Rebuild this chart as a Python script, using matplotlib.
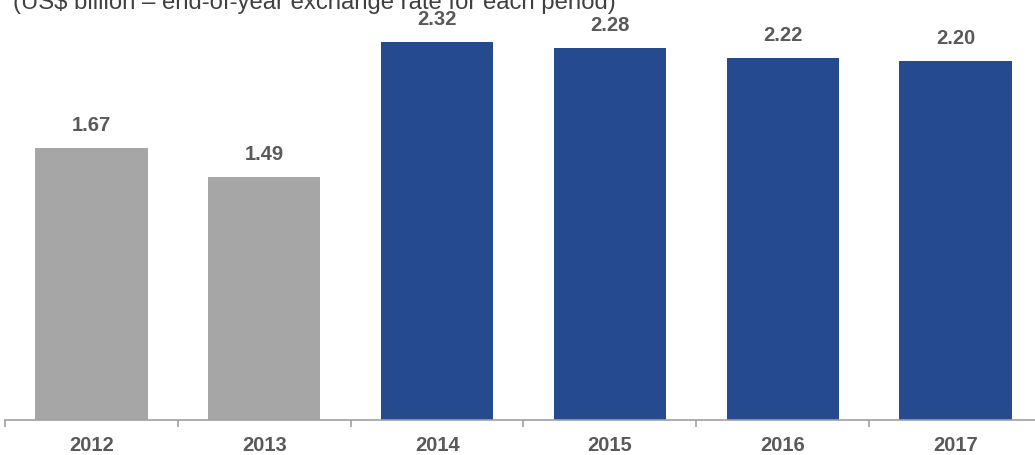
import matplotlib.pyplot as plt
import numpy as np

plt.rcParams['font.family'] = ['Liberation Sans', 'DejaVu Sans']

years = ['2012', '2013', '2014', '2015', '2016', '2017']
values = [1.67, 1.49, 2.32, 2.28, 2.22, 2.20]
bar_colors = ['#A6A6A6', '#A6A6A6', '#254A8D', '#254A8D', '#254A8D', '#254A8D']
subtitle = '(US$ billion \u2013 end-of-year exchange rate for each period)'

txt = '#595959'
W, H = 1035, 456

fig = plt.figure(figsize=(W / 100, H / 100), dpi=100)
# axes run slightly past the right edge so the last tick is cut off
ax = fig.add_axes([5 / W, 35 / H, 1037 / W, 421 / H])

x = np.arange(len(years))
bars = ax.bar(x, values, width=0.65, color=bar_colors)

for xi, v in zip(x, values):
    ax.annotate('%.2f' % v, (xi, v), xytext=(0, 17.0), textcoords='offset points',
                ha='center', va='center', fontsize=14.5, fontweight='bold', color=txt)

ax.set_xlim(-0.5, len(years) - 0.5)
ax.set_ylim(0, 421 / 163.0)
ax.set_yticks([])
for s in ['top', 'right', 'left']:
    ax.spines[s].set_visible(False)
ax.spines['bottom'].set_color('#A0A0A0')
ax.spines['bottom'].set_linewidth(1.2)

# year labels centred under bars, ticks at the category boundaries
ax.set_xticks(x)
ax.set_xticklabels(years, fontsize=14.5, fontweight='bold', color=txt)
ax.tick_params(axis='x', which='major', length=0, pad=11)
ax.set_xticks(np.arange(-0.5, len(years) + 0.5, 1), minor=True)
ax.tick_params(axis='x', which='minor', length=5, width=1.2, color='#A0A0A0')

fig.text(13 / W, 1 - 9 / H, subtitle, fontsize=17.2, color='#404040',
         ha='left', va='baseline')

fig.savefig('out.png', dpi=100)
